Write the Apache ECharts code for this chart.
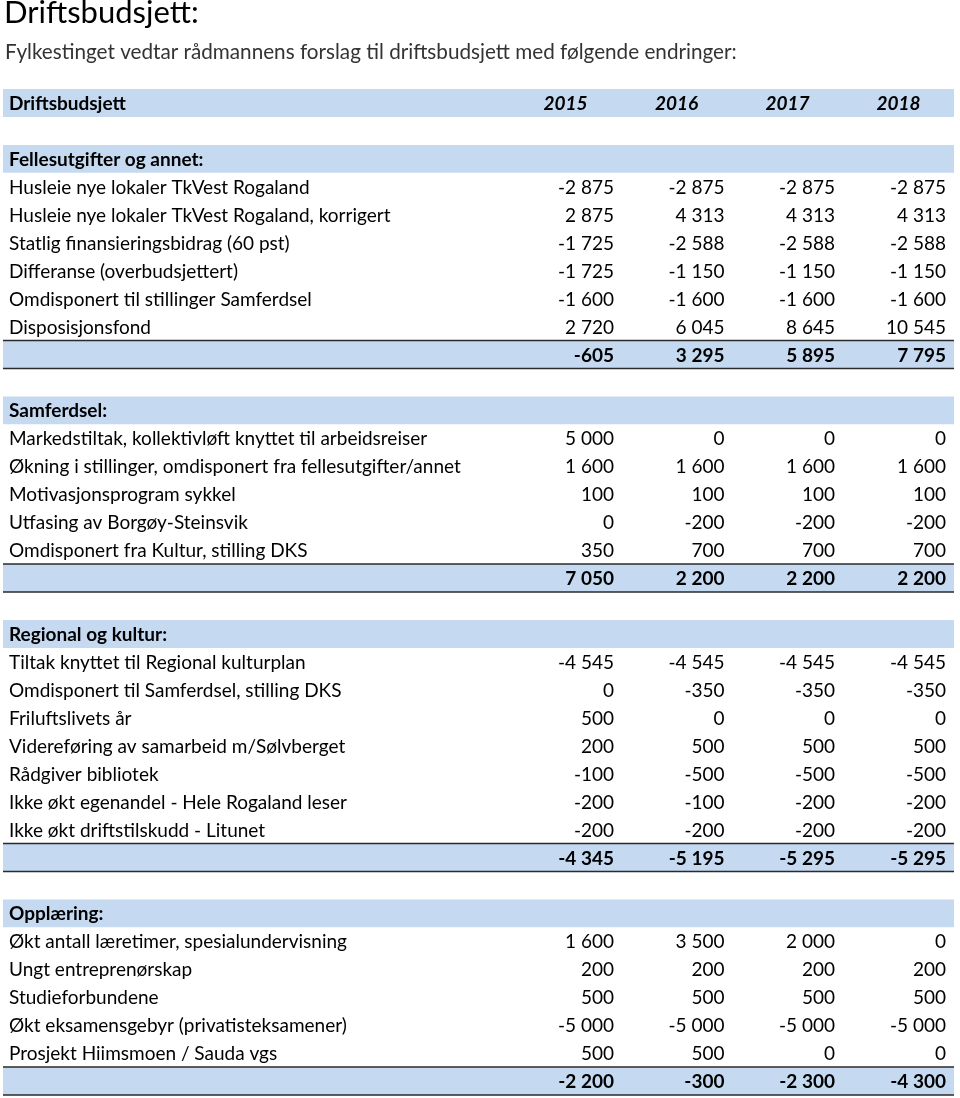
<!DOCTYPE html>
<html>
<head>
<meta charset="utf-8">
<script src="https://cdn.jsdelivr.net/npm/echarts@6/dist/echarts.min.js"></script>
<style>
  html, body { margin: 0; padding: 0; background: #fff; }
  #chart { width: 960px; height: 1098px; }
</style>
</head>
<body>
<div id="chart"></div>
<script>
const years = ['2015', '2016', '2017', '2018'];

const fellesTitle = 'Fellesutgifter og annet:';
const fellesLabels = [
  'Husleie nye lokaler TkVest Rogaland',
  'Husleie nye lokaler TkVest Rogaland, korrigert',
  'Statlig finansieringsbidrag (60 pst)',
  'Differanse (overbudsjettert)',
  'Omdisponert til stillinger Samferdsel',
  'Disposisjonsfond'
];
const fellesValues = [
  [-2875, -2875, -2875, -2875],
  [2875, 4313, 4313, 4313],
  [-1725, -2588, -2588, -2588],
  [-1725, -1150, -1150, -1150],
  [-1600, -1600, -1600, -1600],
  [2720, 6045, 8645, 10545]
];
const fellesSum = [-605, 3295, 5895, 7795];

const samfTitle = 'Samferdsel:';
const samfLabels = [
  'Markedstiltak, kollektivløft knyttet til arbeidsreiser',
  'Økning i stillinger, omdisponert fra fellesutgifter/annet',
  'Motivasjonsprogram sykkel',
  'Utfasing av Borgøy-Steinsvik',
  'Omdisponert fra Kultur, stilling DKS'
];
const samfValues = [
  [5000, 0, 0, 0],
  [1600, 1600, 1600, 1600],
  [100, 100, 100, 100],
  [0, -200, -200, -200],
  [350, 700, 700, 700]
];
const samfSum = [7050, 2200, 2200, 2200];

const kulturTitle = 'Regional og kultur:';
const kulturLabels = [
  'Tiltak knyttet til Regional kulturplan',
  'Omdisponert til Samferdsel, stilling DKS',
  'Friluftslivets år',
  'Videreføring av samarbeid m/Sølvberget',
  'Rådgiver bibliotek',
  'Ikke økt egenandel - Hele Rogaland leser',
  'Ikke økt driftstilskudd - Litunet'
];
const kulturValues = [
  [-4545, -4545, -4545, -4545],
  [0, -350, -350, -350],
  [500, 0, 0, 0],
  [200, 500, 500, 500],
  [-100, -500, -500, -500],
  [-200, -100, -200, -200],
  [-200, -200, -200, -200]
];
const kulturSum = [-4345, -5195, -5295, -5295];

const opplTitle = 'Opplæring:';
const opplLabels = [
  'Økt antall læretimer, spesialundervisning',
  'Ungt entreprenørskap',
  'Studieforbundene',
  'Økt eksamensgebyr (privatisteksamener)',
  'Prosjekt Hiimsmoen / Sauda vgs'
];
const opplValues = [
  [1600, 3500, 2000, 0],
  [200, 200, 200, 200],
  [500, 500, 500, 500],
  [-5000, -5000, -5000, -5000],
  [500, 500, 0, 0]
];
const opplSum = [-2200, -300, -2300, -4300];

// ---- build row list ----
const rows = [{ type: 'header', label: 'Driftsbudsjett', values: years }];
function addSection(title, labels, values, sum) {
  rows.push({ type: 'blank' });
  rows.push({ type: 'section', label: title });
  labels.forEach((l, i) => rows.push({ type: 'item', label: l, values: values[i] }));
  rows.push({ type: 'sum', values: sum });
}
addSection(fellesTitle, fellesLabels, fellesValues, fellesSum);
addSection(samfTitle, samfLabels, samfValues, samfSum);
addSection(kulturTitle, kulturLabels, kulturValues, kulturSum);
addSection(opplTitle, opplLabels, opplValues, opplSum);

const FONT = 'Lato, "Open Sans", sans-serif';
const SIZE = 19;
const BLUE = '#c5d9f1';
const colCenter = [565.5, 676.5, 787.5, 898.5];
const colRight = [614, 724.5, 835, 946];

function fmt(v) {
  const s = String(Math.abs(v)).replace(/\B(?=(\d{3})+(?!\d))/g, ' ');
  return (v < 0 ? '-' : '') + s;
}

function renderItem(params, api) {
  const idx = api.value(0);
  const row = rows[idx];
  const h = api.size([0, 1])[1];
  const yc = api.coord([0, idx])[1];
  const ty = yc + 1;
  const x0 = api.coord([3, idx])[0];
  const x1 = api.coord([954, idx])[0];
  const lx = api.coord([9, idx])[0];
  const children = [];
  if (row.type === 'header' || row.type === 'section' || row.type === 'sum') {
    children.push({
      type: 'rect',
      shape: { x: x0, y: yc - h / 2, width: x1 - x0, height: h },
      style: { fill: BLUE }
    });
  }
  if (row.type === 'sum') {
    [yc - h / 2, yc + h / 2].forEach(yy => children.push({
      type: 'line',
      shape: { x1: x0, y1: yy, x2: x1, y2: yy },
      style: { stroke: '#2a2a2a', lineWidth: 1.5 }
    }));
  }
  const bold = row.type === 'header' || row.type === 'section' || row.type === 'sum';
  if (row.label) {
    children.push({
      type: 'text',
      style: {
        x: lx, y: ty, text: row.label, textAlign: 'left', textVerticalAlign: 'middle',
        font: (bold ? 'bold ' : '') + SIZE + 'px ' + FONT, fill: '#000'
      }
    });
  }
  if (row.values) {
    row.values.forEach((v, j) => {
      const header = row.type === 'header';
      children.push({
        type: 'text',
        style: {
          x: api.coord([header ? colCenter[j] : colRight[j], idx])[0], y: ty,
          text: header ? v : fmt(v),
          textAlign: header ? 'center' : 'right', textVerticalAlign: 'middle',
          font: (header ? 'italic ' : '') + (bold ? 'bold ' : '') + SIZE + 'px ' + FONT,
          fill: '#000'
        }
      });
    });
  }
  return { type: 'group', children: children };
}

const chart = echarts.init(document.getElementById('chart'));
chart.setOption({
  animation: false,
  title: [
    {
      text: 'Driftsbudsjett:', left: 4, top: -3, padding: 0,
      textStyle: { fontFamily: FONT, fontSize: 31, fontWeight: 'normal', color: '#000' }
    },
    {
      text: 'Fylkestinget vedtar rådmannens forslag til driftsbudsjett med følgende endringer:',
      left: 5, top: 42, padding: 0,
      textStyle: { fontFamily: FONT, fontSize: 20.7, fontWeight: 'normal', color: '#333' }
    }
  ],
  grid: { left: 0, right: 0, top: 89, bottom: 3 },
  xAxis: { type: 'value', min: 0, max: 960, show: false },
  yAxis: { type: 'category', inverse: true, show: false, data: rows.map((r, i) => i) },
  series: [{
    type: 'custom',
    renderItem: renderItem,
    data: rows.map((r, i) => [i]),
    encode: { y: 0 }
  }]
});
</script>
</body>
</html>
